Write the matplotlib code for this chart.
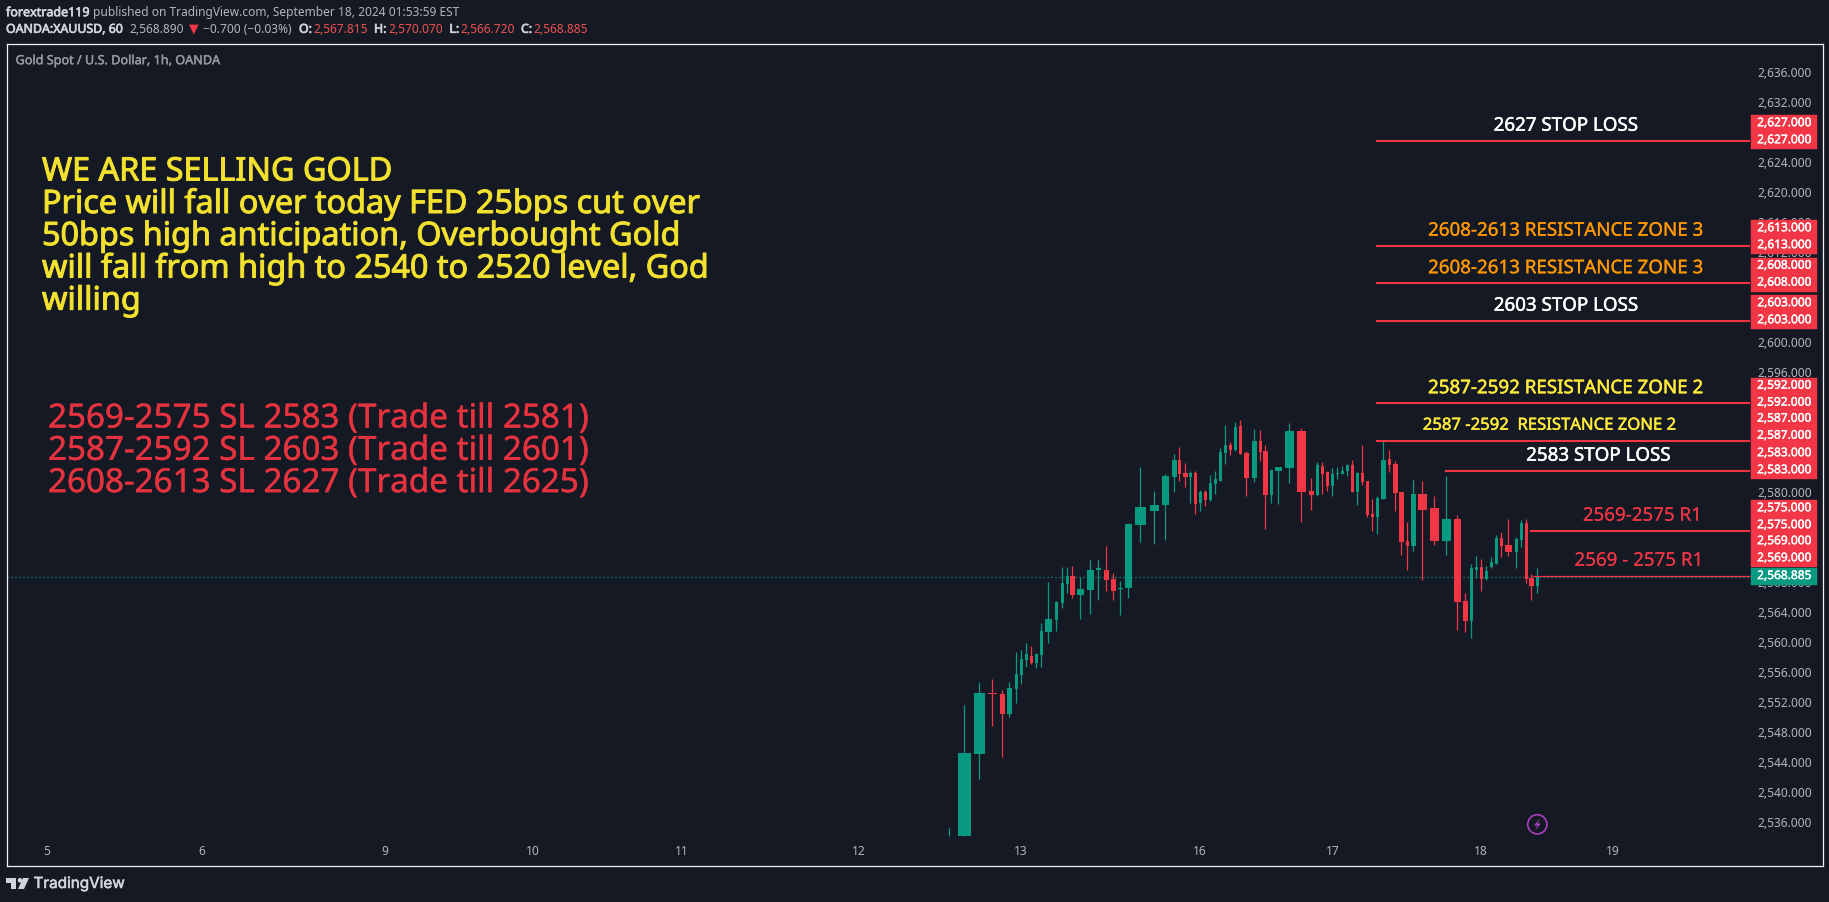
import matplotlib
matplotlib.use("Agg")
import matplotlib.pyplot as plt
import matplotlib.patheffects as pe
from matplotlib.patches import Polygon, Circle, Rectangle
from matplotlib.transforms import Affine2D, ScaledTranslation
from matplotlib.ticker import FuncFormatter
import numpy as np

# Candles: bar position on the time axis, how many slots each bar spans, then OHLC
bar_pos = [188.57, 191.57, 194.57, 197.17, 199.17, 200.57, 201.97, 202.97, 203.97, 204.97,
           205.97, 206.97, 208.37, 209.97, 211.17, 212.17, 213.17, 214.77, 216.77, 218.37,
           219.97, 221.37, 222.77, 224.37, 226.77, 229.57, 231.77, 233.57, 234.57, 235.77,
           236.77, 237.77, 238.77, 239.77, 240.77, 241.77, 242.77, 243.77, 244.77, 245.77,
           246.77, 247.97, 249.57, 250.77, 251.77, 252.97, 254.37, 256.57, 258.97, 260.97,
           262.17, 263.17, 264.17, 265.17, 266.17, 267.17, 268.17, 269.17, 270.17, 271.17,
           272.17, 273.17, 274.17, 275.37, 276.57, 277.77, 278.97, 280.17, 281.37, 283.17,
           285.57, 287.97, 290.17, 291.77, 292.97, 293.97, 294.97, 295.97, 296.97, 297.97,
           298.97, 300.37, 301.97, 302.97, 303.97, 304.97, 306.17]
bar_span = [0.1, 2.6, 2.2, 1.8, 1.0, 1.0, 0.6, 0.6, 0.6, 0.6,
            0.6, 0.6, 1.4, 0.6, 0.6, 0.6, 1.0, 1.4, 1.4, 1.0,
            1.0, 1.0, 1.0, 1.4, 2.2, 1.8, 1.4, 1.0, 0.6, 1.0,
            0.6, 0.6, 0.6, 0.6, 0.6, 0.6, 0.6, 0.6, 0.6, 0.6,
            0.6, 1.0, 1.0, 0.6, 1.0, 0.6, 1.4, 1.8, 1.8, 1.0,
            0.6, 0.6, 0.6, 0.6, 0.6, 0.6, 0.6, 0.6, 0.6, 0.6,
            0.6, 0.6, 0.6, 1.0, 0.6, 1.0, 1.0, 0.6, 1.0, 1.8,
            1.8, 1.8, 1.4, 1.0, 0.6, 0.6, 0.6, 0.6, 0.6, 0.6,
            0.6, 1.4, 0.6, 0.6, 0.6, 1.0, 0.6]
opens = [2534.23, 2534.23, 2545.25, 2553.38, 2553.25, 2550.58, 2553.92, 2555.78, 2557.78, 2558.32,
         2557.38, 2558.45, 2561.52, 2563.12, 2565.38, 2567.92, 2568.98, 2566.45, 2567.12, 2569.78,
         2569.78, 2568.58, 2567.25, 2567.38, 2575.78, 2577.65, 2578.45, 2582.18, 2584.45, 2582.72,
         2582.18, 2582.72, 2578.72, 2580.18, 2579.12, 2581.25, 2581.65, 2585.38, 2586.45, 2585.78,
         2588.98, 2585.38, 2582.05, 2586.98, 2585.65, 2579.78, 2582.98, 2583.38, 2588.32, 2580.32,
         2579.78, 2583.65, 2582.85, 2580.98, 2582.58, 2582.58, 2582.98, 2583.78, 2580.18, 2582.72,
         2581.65, 2577.25, 2576.85, 2579.25, 2584.58, 2583.92, 2580.18, 2573.65, 2572.98, 2579.92,
         2578.05, 2573.65, 2576.58, 2565.65, 2562.98, 2569.78, 2570.18, 2568.58, 2570.18, 2570.58,
         2574.05, 2573.12, 2572.18, 2573.78, 2576.05, 2568.72, 2567.65]
highs = [2535.34, 2551.78, 2554.81, 2555.25, 2553.78, 2554.81, 2558.85, 2559.12, 2560.05, 2559.65,
         2558.72, 2562.72, 2568.18, 2565.65, 2570.18, 2570.18, 2570.32, 2568.85, 2571.12, 2571.12,
         2572.98, 2569.38, 2568.32, 2576.05, 2583.52, 2580.32, 2582.58, 2585.25, 2586.18, 2584.05,
         2582.98, 2582.98, 2580.45, 2580.45, 2582.45, 2582.98, 2586.05, 2589.12, 2586.85, 2589.52,
         2589.78, 2585.65, 2588.58, 2588.45, 2586.45, 2583.25, 2583.52, 2589.38, 2588.72, 2582.05,
         2584.18, 2584.18, 2582.98, 2583.38, 2583.52, 2583.65, 2583.92, 2584.45, 2582.85, 2586.45,
         2581.65, 2579.25, 2579.65, 2587.12, 2585.78, 2584.32, 2580.18, 2576.18, 2581.78, 2581.65,
         2579.65, 2582.32, 2577.07, 2566.72, 2570.58, 2571.65, 2571.25, 2570.32, 2571.52, 2574.45,
         2574.85, 2576.58, 2574.18, 2576.45, 2576.58, 2569.25, 2570.05]
lows = [2534.23, 2534.23, 2541.92, 2548.98, 2544.85, 2550.18, 2552.05, 2554.58, 2556.85, 2557.25,
        2556.72, 2556.85, 2560.05, 2561.65, 2564.72, 2566.72, 2566.05, 2563.25, 2563.92, 2565.78,
        2566.98, 2565.78, 2563.78, 2566.05, 2573.52, 2573.25, 2573.78, 2580.18, 2581.65, 2580.85,
        2578.72, 2577.25, 2577.65, 2578.32, 2578.98, 2579.92, 2581.65, 2583.92, 2585.12, 2585.65,
        2585.25, 2579.65, 2581.52, 2584.32, 2575.25, 2578.72, 2578.58, 2581.38, 2576.18, 2577.78,
        2579.65, 2579.92, 2580.32, 2579.65, 2581.92, 2582.58, 2582.32, 2580.18, 2578.45, 2581.12,
        2576.85, 2574.98, 2574.58, 2579.25, 2582.85, 2577.65, 2571.78, 2569.78, 2572.32, 2568.45,
        2573.12, 2571.78, 2561.78, 2561.52, 2560.72, 2568.72, 2566.98, 2568.45, 2570.05, 2570.58,
        2571.52, 2571.65, 2570.05, 2572.85, 2568.05, 2565.78, 2566.72]
closes = [2534.30, 2545.38, 2553.38, 2553.25, 2550.58, 2554.05, 2555.92, 2557.92, 2558.58, 2557.38,
          2558.58, 2561.65, 2563.25, 2565.52, 2568.05, 2568.98, 2566.45, 2567.25, 2569.78, 2570.05,
          2568.45, 2566.98, 2567.38, 2575.92, 2578.18, 2578.45, 2582.32, 2584.45, 2582.58, 2582.18,
          2582.72, 2578.58, 2580.18, 2579.12, 2581.38, 2581.92, 2585.52, 2586.45, 2585.78, 2588.85,
          2585.25, 2582.05, 2586.98, 2585.52, 2579.78, 2583.12, 2583.52, 2588.32, 2580.18, 2579.78,
          2583.78, 2582.58, 2580.98, 2582.58, 2582.72, 2582.98, 2583.78, 2580.18, 2582.72, 2581.52,
          2577.12, 2576.85, 2579.38, 2584.45, 2583.78, 2580.05, 2573.52, 2572.98, 2579.92, 2577.78,
          2573.65, 2576.58, 2565.52, 2562.98, 2570.05, 2570.18, 2568.58, 2569.65, 2570.85, 2574.05,
          2572.98, 2572.18, 2573.92, 2576.05, 2568.58, 2567.65, 2568.85]

# Axis labels
price_ticks = list(range(2536, 2640, 4))
day_pos = [8.04, 39.0, 75.7, 105.3, 135.1, 170.4, 202.8, 238.7, 265.3, 294.9, 321.3]
day_labels = ["5", "6", "9", "10", "11", "12", "13", "16", "17", "18", "19"]

# Drawn levels and their notes
level_prices = [2627, 2613, 2608, 2603, 2592, 2587, 2583, 2575, 2569]
level_starts = [273.9, 273.9, 273.9, 273.9, 273.9, 273.9, 287.7, 304.7, 305.1]
level_notes = ["2627 STOP LOSS", "2608-2613 RESISTANCE ZONE 3", "2608-2613 RESISTANCE ZONE 3",
               "2603 STOP LOSS", "2587-2592 RESISTANCE ZONE 2", "2587 -2592  RESISTANCE ZONE 2",
               "2583 STOP LOSS", "2569-2575 R1", "2569 - 2575 R1"]
note_pos = [311.9, 311.9, 311.9, 311.9, 311.9, 308.6, 318.4, 327.2, 326.5]
last_price = 2568.885

message = ["WE ARE SELLING GOLD",
           "Price will fall over today FED 25bps cut over",
           "50bps high anticipation, Overbought Gold",
           "will fall from high to 2540 to 2520 level, God",
           "willing"]
trades = ["2569-2575 SL 2583 (Trade till 2581)",
          "2587-2592 SL 2603 (Trade till 2601)",
          "2608-2613 SL 2627 (Trade till 2625)"]

W, H = 1829, 902
BG = "#151924"
GREEN = "#089981"
RED = "#F23645"
LABEL = "#b2b5be"
FONT = "Noto Sans"
note_colors = ["white", "#ff9800", "#ff9800", "white", "#ffeb3b", "#ffeb3b", "white", RED, RED]
note_sizes = [13.5, 13.5, 13.5, 13.5, 13.5, 12.0, 13.5, 13.5, 13.5]
note_heavy = [0.35, 0.2, 0.2, 0.35, 0.35, 0.35, 0.35, 0.01, 0.01]

plt.rcParams["font.family"] = [FONT, "DejaVu Sans"]
fig = plt.figure(figsize=(W / 100, H / 100), dpi=100, facecolor=BG)


def heavy(color, width=0.5):
    # only the regular cut looks right here, so thicken it with a thin outline
    return [pe.withStroke(linewidth=width, foreground=color)]


# pixel coordinates with the origin at the top left, handy for the header
px = Affine2D().scale(1 / W, -1 / H).translate(0, 1) + fig.transFigure

left, right, top, bottom = 6.5, 1823, 43.5, 865.5
ax = fig.add_axes([left / W, 1 - bottom / H, (right - left) / W, (bottom - top) / H], facecolor=BG)
ax.set_xlim(0, (right - left) / 5)
ax.set_ylim(2530.36, 2639.96)
ax.set_axisbelow(True)
for s in ax.spines.values():
    s.set_color("#f0f3fa")
    s.set_linewidth(0.9)
    s.set_zorder(8)

ax.yaxis.tick_right()
ax.set_yticks(price_ticks)
ax.yaxis.set_major_formatter(FuncFormatter(lambda v, _: f"{v:,.3f}"))
ax.tick_params(axis="y", length=0, pad=-8.1, labelcolor=LABEL, labelsize=8.6)
up = ScaledTranslation(0, 1.5 / 100, fig.dpi_scale_trans)
for t in ax.get_yticklabels():
    t.set_ha("right")
    t.set_transform(t.get_transform() + up)
ax.set_xticks(day_pos)
ax.set_xticklabels(day_labels)
ax.tick_params(axis="x", length=0, pad=-14.5, labelcolor=LABEL, labelsize=8.6)

# Candles
bar_pos = np.array(bar_pos)
opens, highs, lows, closes = map(np.array, (opens, highs, lows, closes))
colors = [GREEN if c >= o else RED for o, c in zip(opens, closes)]
price_end = (1750 - left) / 5
ax.hlines(last_price, 0, price_end, colors=GREEN, linewidth=0.9, linestyles=(0, (1, 2.2)), zorder=2)
ax.vlines(bar_pos, lows, highs, colors=colors, linewidth=0.9, zorder=3)
ax.bar(bar_pos, closes - opens, bottom=opens, width=bar_span, color=colors, linewidth=0, zorder=3)

# Levels and the notes above them
for i, p in enumerate(level_prices):
    lw = 0.9 if p == 2569 else 1.5
    ax.hlines(p, level_starts[i], price_end, colors=RED, linewidth=lw, zorder=4)
    ax.annotate(level_notes[i], xy=(note_pos[i], p), xytext=(0, 10.8), textcoords="offset points",
                ha="center", va="center", color=note_colors[i], fontsize=note_sizes[i], zorder=5,
                path_effects=heavy(note_colors[i], note_heavy[i]))

# Price scale badges, stacked where they would overlap
px_per_unit = 7.5
badge_x0, badge_x1 = (1751 - left) / 5, (1817 - left) / 5
badges = [(2627, 0), (2627, 17), (2613, 0), (2613, 17), (2608, 0), (2608, 17), (2603, 0), (2603, 17),
          (2592, 0), (2592, 17), (2587, 4.5), (2587, 21.5), (2583, 0), (2583, 17),
          (2575, 5), (2575, 22), (2569, 17), (2569, 34)]
for p, off in badges:
    y = p + off / px_per_unit
    ax.add_patch(Rectangle((badge_x0, y - 8.5 / px_per_unit), badge_x1 - badge_x0, 17 / px_per_unit,
                           fc=RED, ec=RED, lw=0.3, zorder=6))
    ax.text((1811.7 - left) / 5, y + 1 / px_per_unit, f"{p:,.3f}", ha="right", va="center", color="white",
            fontsize=8.6, zorder=7, path_effects=heavy("white", 0.3))
ax.add_patch(Rectangle((badge_x0, last_price - 8.5 / px_per_unit), badge_x1 - badge_x0, 17 / px_per_unit,
                       fc=GREEN, ec=GREEN, lw=0.3, zorder=6))
ax.text((1811.7 - left) / 5, last_price + 1 / px_per_unit, f"{last_price:,.3f}", ha="right", va="center",
        color="white", fontsize=8.6, zorder=7, path_effects=heavy("white", 0.3))

# Big notes on the chart
for i, line in enumerate(message):
    fig.text(42, 172 + i * 32.3, line, transform=px, color="#f2e12f", fontsize=23.3, va="center",
             path_effects=heavy("#f2e12f", 0.7))
for i, line in enumerate(trades):
    fig.text(48, 419 + i * 32.3, line, transform=px, color="#e5323f", fontsize=23.9, va="center",
             path_effects=heavy("#e5323f", 0.3))

# Header
line1, line2 = 12.7, 29.3
fig.text(6, line1, "forextrade119", transform=px, color="#d1d4dc", fontsize=9, va="center",
         path_effects=heavy("#d1d4dc", 0.5))
fig.text(92.7, line1, "published on TradingView.com, September 18, 2024 01:53:59 EST", transform=px, color=LABEL,
         fontsize=8.6, va="center")
fig.text(6, line2, "OANDA:XAUUSD, 60", transform=px, color="#d1d4dc", fontsize=8.9, va="center",
         path_effects=heavy("#d1d4dc", 0.5))
fig.text(129.3, line2, "2,568.890", transform=px, color=LABEL, fontsize=8.6, va="center")
fig.text(189, line2, "\u25bc", transform=px, color=RED, fontsize=9, family="DejaVu Sans", va="center")
fig.text(203, line2, "\u22120.700 (\u22120.03%)", transform=px, color=LABEL, fontsize=8.6, va="center")
for x0, name, x1, val in [(299, "O:", 313.4, "2,567.815"), (374, "H:", 388.5, "2,570.070"),
                          (449.4, "L:", 460.5, "2,566.720"), (521, "C:", 533.6, "2,568.885")]:
    fig.text(x0, line2, name, transform=px, color="#d1d4dc", fontsize=8.9, va="center",
             path_effects=heavy("#d1d4dc", 0.5))
    fig.text(x1, line2, val, transform=px, color="#ef5350", fontsize=8.6, va="center")
fig.text(15.6, 60.7, "Gold Spot / U.S. Dollar, 1h, OANDA", transform=px, color="#9598a1", fontsize=9.1, va="center",
         path_effects=heavy("#9598a1", 0.3))

# Lightning icon
fig.add_artist(Circle((1537.3, 824.3), 9.6, transform=px, fc="none", ec="#a83fc0", lw=1.2))
fig.add_artist(Polygon([(1540, 818.5), (1534, 825.5), (1537.5, 825.5), (1535, 830.5), (1541, 823.5), (1537.5, 823.5)],
                       transform=px, fc="#a83fc0", ec="none"))

# TradingView logo
logo = "#d1d4dc"
fig.add_artist(Polygon([(6, 878), (16, 878), (16, 889), (11, 889), (11, 882.5), (6, 882.5)], transform=px, fc=logo, ec="none"))
fig.add_artist(Circle((20, 880.3), 2.3, transform=px, fc=logo, ec="none"))
fig.add_artist(Polygon([(23, 878), (29, 878), (24, 889), (18, 889)], transform=px, fc=logo, ec="none"))
fig.text(33.5, 883.5, "TradingView", transform=px, color=logo, fontsize=11, family="Inter", va="center",
         path_effects=heavy(logo, 0.4))

fig.savefig("out.png", dpi=100, facecolor=BG)
